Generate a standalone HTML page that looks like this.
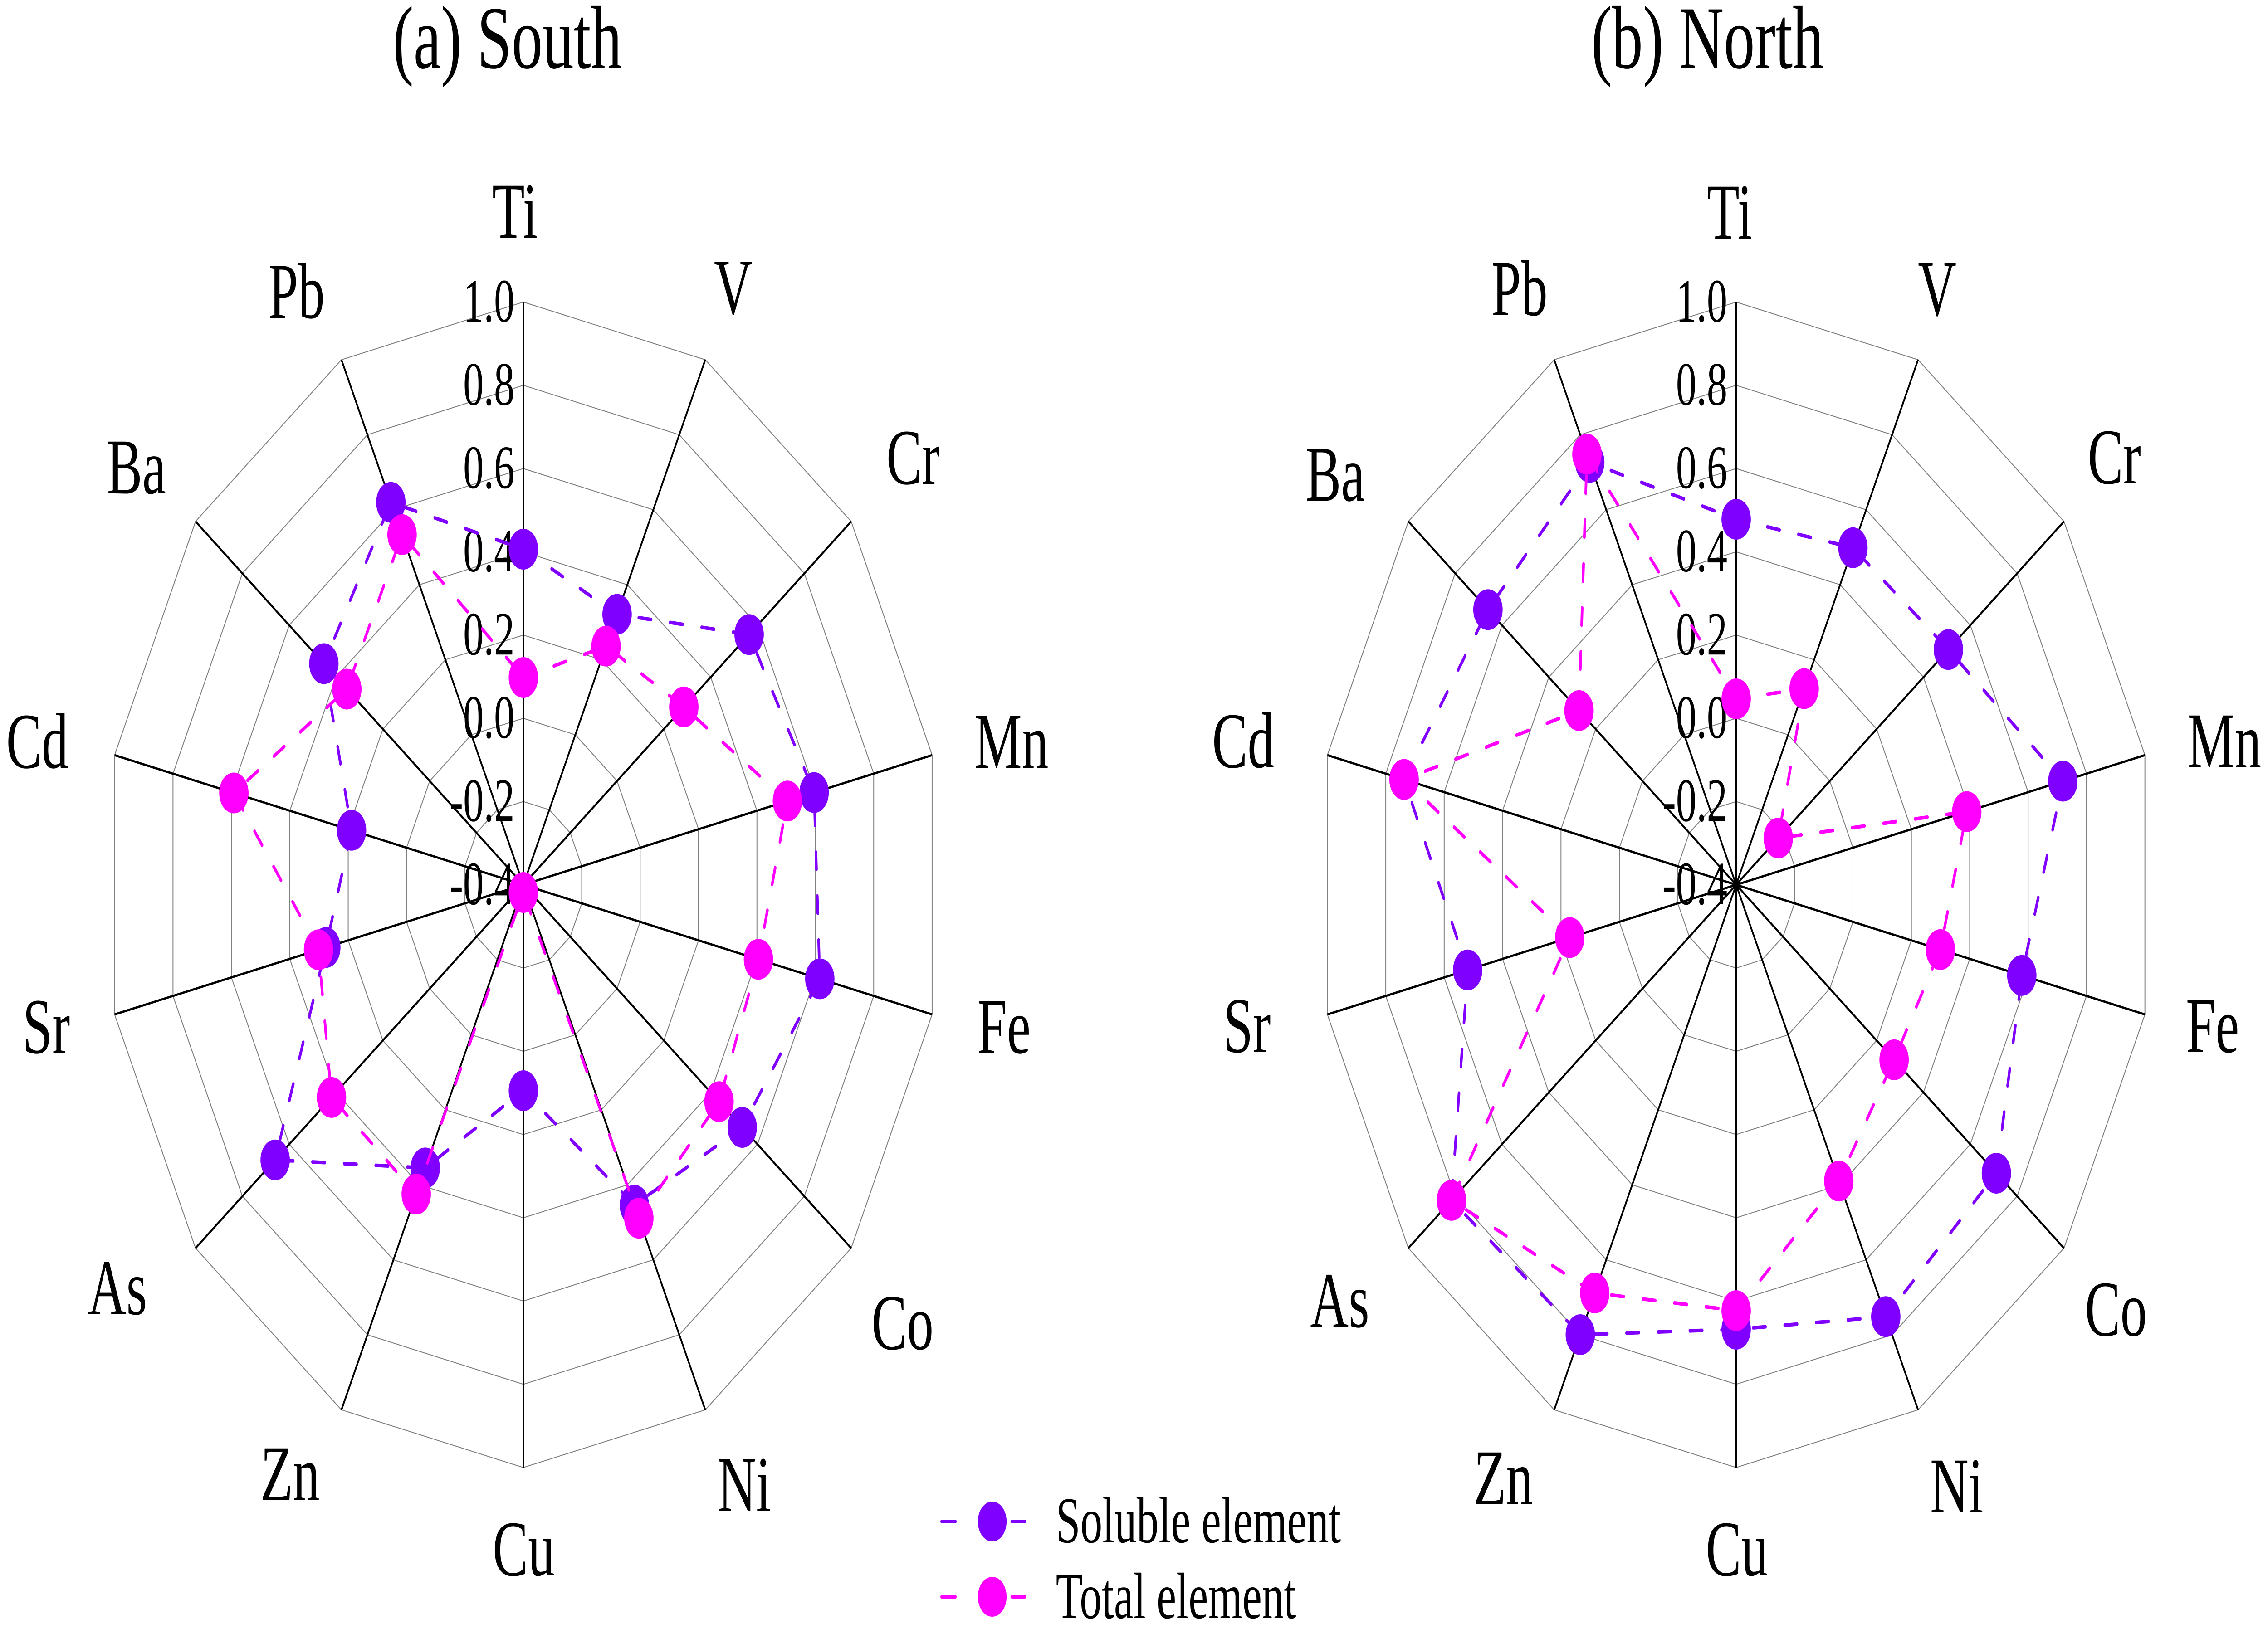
<!DOCTYPE html>
<html>
<head>
<meta charset="utf-8">
<style>
  html, body { margin: 0; padding: 0; background: #ffffff; width: 100%; height: 100%; overflow: hidden; }
  svg { display: block; width: 100vw; height: 100vh; }
  text { font-family: "Liberation Serif", "Times New Roman", serif; fill: #000; }
  .lab { font-size: 163px; }
  .tick { font-size: 126px; }
  .title { font-size: 190px; }
  .leg { font-size: 135px; }
</style>
</head>
<body>
<svg xmlns="http://www.w3.org/2000/svg" viewBox="0 0 6951 3592" preserveAspectRatio="none">
  <rect x="0" y="0" width="6951" height="3592" fill="#ffffff"/>
  <defs>
    <polygon id="ring" points="0,-1 0.43388,-0.90097 0.78183,-0.62349 0.97493,-0.22252 0.97493,0.22252 0.78183,0.62349 0.43388,0.90097 0,1 -0.43388,0.90097 -0.78183,0.62349 -0.97493,0.22252 -0.97493,-0.22252 -0.78183,-0.62349 -0.43388,-0.90097" fill="none" stroke="#808080" stroke-width="2" vector-effect="non-scaling-stroke"/>
    <g id="frame">
      <use href="#ring" transform="scale(183.57)"/>
      <use href="#ring" transform="scale(367.14)"/>
      <use href="#ring" transform="scale(550.71)"/>
      <use href="#ring" transform="scale(734.29)"/>
      <use href="#ring" transform="scale(917.86)"/>
      <use href="#ring" transform="scale(1101.43)"/>
      <use href="#ring" transform="scale(1285)"/>
      <path d="M0,-1285 L0,1285 M557.5,-1157.7 L-557.5,1157.7 M1004.7,-801.2 L-1004.7,801.2 M1252.8,-285.9 L-1252.8,285.9 M1252.8,285.9 L-1252.8,-285.9 M1004.7,801.2 L-1004.7,-801.2 M557.5,1157.7 L-557.5,-1157.7" stroke="#000" stroke-width="5" fill="none"/>
      <g class="tick" text-anchor="end">
        <text transform="translate(-27,43) scale(1,1.08)">-0.4</text>
        <text transform="translate(-27,-140.6) scale(1,1.08)">-0.2</text>
        <text transform="translate(-27,-324.1) scale(1,1.08)">0.0</text>
        <text transform="translate(-27,-507.7) scale(1,1.08)">0.2</text>
        <text transform="translate(-27,-691.3) scale(1,1.08)">0.4</text>
        <text transform="translate(-27,-874.9) scale(1,1.08)">0.6</text>
        <text transform="translate(-27,-1058.4) scale(1,1.08)">0.8</text>
        <text transform="translate(-27,-1242) scale(1,1.08)">1.0</text>
      </g>
    </g>
  </defs>

  <!-- Titles -->
  <text class="title" text-anchor="middle" transform="translate(1555,150) scale(1,1.04)">(a) South</text>
  <text class="title" text-anchor="middle" transform="translate(5233,150) scale(1,1.04)">(b) North</text>

  <!-- ===== Left chart (South) ===== -->
  <g transform="translate(1604,1951)">
    <use href="#frame"/>
    <!-- Soluble -->
    <polygon points="0,-740 287.2,-596.4 691.9,-551.8 891.1,-203.4 908.6,207.4 670.8,535 340.2,706.4 0,454 -300.7,624.4 -760.7,606.7 -605.4,138.2 -526.5,-120.2 -611.4,-487.6 -406.1,-843.3" fill="none" stroke="#8000ff" stroke-width="8" stroke-dasharray="38 59" stroke-linecap="round" stroke-linejoin="round"/>
    <g fill="#8000ff">
      <circle cx="0" cy="-740" r="45"/>
      <circle cx="287.2" cy="-596.4" r="45"/>
      <circle cx="691.9" cy="-551.8" r="45"/>
      <circle cx="891.1" cy="-203.4" r="45"/>
      <circle cx="908.6" cy="207.4" r="45"/>
      <circle cx="670.8" cy="535" r="45"/>
      <circle cx="340.2" cy="706.4" r="45"/>
      <circle cx="0" cy="454" r="45"/>
      <circle cx="-300.7" cy="624.4" r="45"/>
      <circle cx="-760.7" cy="606.7" r="45"/>
      <circle cx="-605.4" cy="138.2" r="45"/>
      <circle cx="-526.5" cy="-120.2" r="45"/>
      <circle cx="-611.4" cy="-487.6" r="45"/>
      <circle cx="-406.1" cy="-843.3" r="45"/>
    </g>
    <!-- Total -->
    <polygon points="0,-457 253.4,-526.2 491.8,-392.2 809.2,-184.7 720.5,164.4 599.7,478.2 354,735.2 0,17 -328.4,682 -587.9,468.9 -627.9,143.3 -887.2,-202.5 -541,-431.5 -371.8,-772.1" fill="none" stroke="#ff00ff" stroke-width="8" stroke-dasharray="38 59" stroke-linecap="round" stroke-linejoin="round"/>
    <g fill="#ff00ff">
      <circle cx="0" cy="-457" r="45"/>
      <circle cx="253.4" cy="-526.2" r="45"/>
      <circle cx="491.8" cy="-392.2" r="45"/>
      <circle cx="809.2" cy="-184.7" r="45"/>
      <circle cx="720.5" cy="164.4" r="45"/>
      <circle cx="599.7" cy="478.2" r="45"/>
      <circle cx="354" cy="735.2" r="45"/>
      <circle cx="0" cy="17" r="45"/>
      <circle cx="-328.4" cy="682" r="45"/>
      <circle cx="-587.9" cy="468.9" r="45"/>
      <circle cx="-627.9" cy="143.3" r="45"/>
      <circle cx="-887.2" cy="-202.5" r="45"/>
      <circle cx="-541" cy="-431.5" r="45"/>
      <circle cx="-371.8" cy="-772.1" r="45"/>
    </g>
  </g>
  <g class="lab" text-anchor="middle">
    <text transform="translate(1578,524) scale(1,1.07)">Ti</text>
    <text transform="translate(2247,692) scale(1,1.07)">V</text>
    <text transform="translate(2798,1067) scale(1,1.07)">Cr</text>
    <text transform="translate(3100,1693) scale(1,1.07)">Mn</text>
    <text transform="translate(3077,2322) scale(1,1.07)">Fe</text>
    <text transform="translate(2766,2975) scale(1,1.07)">Co</text>
    <text transform="translate(2281,3332) scale(1,1.07)">Ni</text>
    <text transform="translate(1605,3474) scale(1,1.07)">Cu</text>
    <text transform="translate(889,3308) scale(1,1.07)">Zn</text>
    <text transform="translate(360,2898) scale(1,1.07)">As</text>
    <text transform="translate(142,2322) scale(1,1.07)">Sr</text>
    <text transform="translate(114,1693) scale(1,1.07)">Cd</text>
    <text transform="translate(418,1088) scale(1,1.07)">Ba</text>
    <text transform="translate(909,701) scale(1,1.07)">Pb</text>
  </g>

  <!-- ===== Right chart (North) ===== -->
  <g transform="translate(5321,1951)">
    <use href="#frame"/>
    <!-- Soluble -->
    <polygon points="0,-806 357.9,-743.3 650.5,-518.7 1001.3,-228.5 875.5,199.8 797.5,636 458.6,952.3 0,980 -477.7,992 -872.5,695.8 -822.8,187.8 -1017.8,-232.3 -760.7,-606.7 -448.6,-931.6" fill="none" stroke="#8000ff" stroke-width="8" stroke-dasharray="38 59" stroke-linecap="round" stroke-linejoin="round"/>
    <g fill="#8000ff">
      <circle cx="0" cy="-806" r="45"/>
      <circle cx="357.9" cy="-743.3" r="45"/>
      <circle cx="650.5" cy="-518.7" r="45"/>
      <circle cx="1001.3" cy="-228.5" r="45"/>
      <circle cx="875.5" cy="199.8" r="45"/>
      <circle cx="797.5" cy="636" r="45"/>
      <circle cx="458.6" cy="952.3" r="45"/>
      <circle cx="0" cy="980" r="45"/>
      <circle cx="-477.7" cy="992" r="45"/>
      <circle cx="-872.5" cy="695.8" r="45"/>
      <circle cx="-822.8" cy="187.8" r="45"/>
      <circle cx="-1017.8" cy="-232.3" r="45"/>
      <circle cx="-760.7" cy="-606.7" r="45"/>
      <circle cx="-448.6" cy="-931.6" r="45"/>
    </g>
    <!-- Total -->
    <polygon points="0,-410 208.3,-432.5 129,-102.9 706.8,-161.3 625.9,142.9 484,385.9 314.6,653.2 0,939 -433.4,900.1 -872.5,695.8 -509.9,116.4 -1017.8,-232.3 -481.6,-384.1 -457.3,-949.6" fill="none" stroke="#ff00ff" stroke-width="8" stroke-dasharray="38 59" stroke-linecap="round" stroke-linejoin="round"/>
    <g fill="#ff00ff">
      <circle cx="0" cy="-410" r="45"/>
      <circle cx="208.3" cy="-432.5" r="45"/>
      <circle cx="129" cy="-102.9" r="45"/>
      <circle cx="706.8" cy="-161.3" r="45"/>
      <circle cx="625.9" cy="142.9" r="45"/>
      <circle cx="484" cy="385.9" r="45"/>
      <circle cx="314.6" cy="653.2" r="45"/>
      <circle cx="0" cy="939" r="45"/>
      <circle cx="-433.4" cy="900.1" r="45"/>
      <circle cx="-872.5" cy="695.8" r="45"/>
      <circle cx="-509.9" cy="116.4" r="45"/>
      <circle cx="-1017.8" cy="-232.3" r="45"/>
      <circle cx="-481.6" cy="-384.1" r="45"/>
      <circle cx="-457.3" cy="-949.6" r="45"/>
    </g>
  </g>
  <g class="lab" text-anchor="middle">
    <text transform="translate(5301,526) scale(1,1.07)">Ti</text>
    <text transform="translate(5937,695) scale(1,1.07)">V</text>
    <text transform="translate(6480,1066) scale(1,1.07)">Cr</text>
    <text transform="translate(6817,1692) scale(1,1.07)">Mn</text>
    <text transform="translate(6781,2320) scale(1,1.07)">Fe</text>
    <text transform="translate(6485,2945) scale(1,1.07)">Co</text>
    <text transform="translate(5997,3335) scale(1,1.07)">Ni</text>
    <text transform="translate(5323,3474) scale(1,1.07)">Cu</text>
    <text transform="translate(4607,3317) scale(1,1.07)">Zn</text>
    <text transform="translate(4106,2926) scale(1,1.07)">As</text>
    <text transform="translate(3822,2320) scale(1,1.07)">Sr</text>
    <text transform="translate(3810,1692) scale(1,1.07)">Cd</text>
    <text transform="translate(4092,1104) scale(1,1.07)">Ba</text>
    <text transform="translate(4657,695) scale(1,1.07)">Pb</text>
  </g>

  <!-- ===== Legend ===== -->
  <g stroke-width="8" stroke-linecap="round">
    <line x1="2886" y1="3355" x2="2928" y2="3355" stroke="#8000ff"/>
    <line x1="3101" y1="3355" x2="3141" y2="3355" stroke="#8000ff"/>
    <line x1="2886" y1="3521" x2="2928" y2="3521" stroke="#ff00ff"/>
    <line x1="3101" y1="3521" x2="3141" y2="3521" stroke="#ff00ff"/>
  </g>
  <circle cx="3041" cy="3355" r="44" fill="#8000ff"/>
  <circle cx="3041" cy="3521" r="44" fill="#ff00ff"/>
  <text class="leg" transform="translate(3236,3401) scale(1,1.07)">Soluble element</text>
  <text class="leg" transform="translate(3236,3568) scale(1,1.07)">Total element</text>
</svg>
</body>
</html>
